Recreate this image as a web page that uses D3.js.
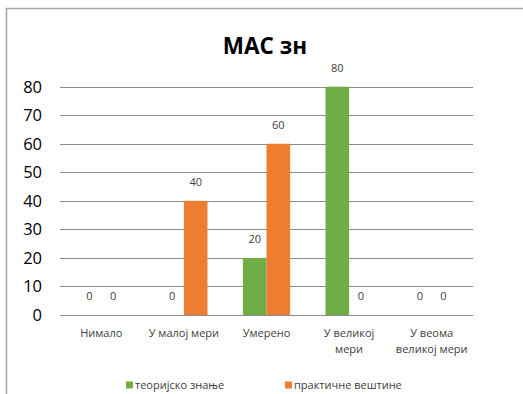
<!DOCTYPE html>
<html><head><meta charset="utf-8">
<script src="https://cdn.jsdelivr.net/npm/d3@7"></script>
<style>body{margin:0;background:#fff}svg{display:block;font-family:"Open Sans",sans-serif}</style>
</head><body>
<script>
const categories = [["Нимало"], ["У малој мери"], ["Умерено"], ["У великој", "мери"], ["У веома", "великој мери"]];
const seriesNames = ["теоријско знање", "практичне вештине"];
const theory = [0, 0, 20, 80, 0];
const practice = [0, 40, 60, 0, 0];
const yTicks = [0, 10, 20, 30, 40, 50, 60, 70, 80];
const colors = ["#70AD47", "#ED7D31"];

(function () {
const W = 523, H = 394;
const svg = d3.select("body").append("svg").attr("width", W).attr("height", H);
svg.append("rect").attr("x", 6.5).attr("y", 8.5).attr("width", 530).attr("height", 400)
  .attr("fill", "#fff").attr("stroke", "#a6a6a6").attr("stroke-width", 1.5);

const pl = 60, pr = 473, pt = 86.7, pb = 315;
const x = d3.scaleBand().domain(d3.range(categories.length)).range([pl, pr]);
const y = d3.scaleLinear().domain([0, 80]).range([pb, pt]);
const barW = x.bandwidth() / 3.5;

svg.append("g").selectAll("line").data(yTicks).join("line")
  .attr("x1", pl).attr("x2", pr).attr("y1", d => Math.round(y(d)) + 0.5).attr("y2", d => Math.round(y(d)) + 0.5)
  .attr("stroke", "#8c8c8c").attr("stroke-width", 1);

svg.append("g").selectAll("text").data(yTicks).join("text")
  .attr("x", 42).attr("y", d => y(d)).attr("dy", "0.36em").attr("text-anchor", "end")
  .attr("font-size", 16.5).attr("fill", "#000").text(d => d);

const series = [theory, practice];
series.forEach((vals, s) => {
  const g = svg.append("g");
  g.selectAll("rect").data(vals).join("rect")
    .attr("x", (d, i) => x(i) + x.bandwidth() / 2 + (s - 1) * barW)
    .attr("y", d => y(d)).attr("width", barW).attr("height", d => y(0) - y(d))
    .attr("fill", colors[s]);
  g.selectAll("text").data(vals).join("text")
    .attr("x", (d, i) => x(i) + x.bandwidth() / 2 + (s - 0.5) * barW)
    .attr("y", d => y(d) - 19).attr("dy", "0.36em").attr("text-anchor", "middle")
    .attr("font-size", 11).attr("fill", "#404040").text(d => d);
});

const xl = svg.append("g").selectAll("text").data(categories).join("text")
  .attr("x", (d, i) => x(i) + x.bandwidth() / 2).attr("y", 333)
  .attr("text-anchor", "middle").attr("font-size", 11).attr("fill", "#404040");
xl.selectAll("tspan").data(d => d).join("tspan")
  .attr("x", function () { return d3.select(this.parentNode).attr("x"); })
  .attr("dy", (d, i) => i === 0 ? "0.36em" : "16px").text(d => d);

svg.append("text").attr("x", 265).attr("y", 54).attr("text-anchor", "middle")
  .attr("font-size", 22.5).attr("font-weight", "bold").attr("fill", "#000").text("МАС зн");

const legX = [126, 285];
seriesNames.forEach((n, s) => {
  svg.append("rect").attr("x", legX[s]).attr("y", 381.5).attr("width", 7).attr("height", 7).attr("fill", colors[s]);
  svg.append("text").attr("x", legX[s] + 9).attr("y", 385).attr("dy", "0.36em")
    .attr("font-size", 11).attr("fill", "#404040").text(n);
});
})();
</script>
</body></html>
